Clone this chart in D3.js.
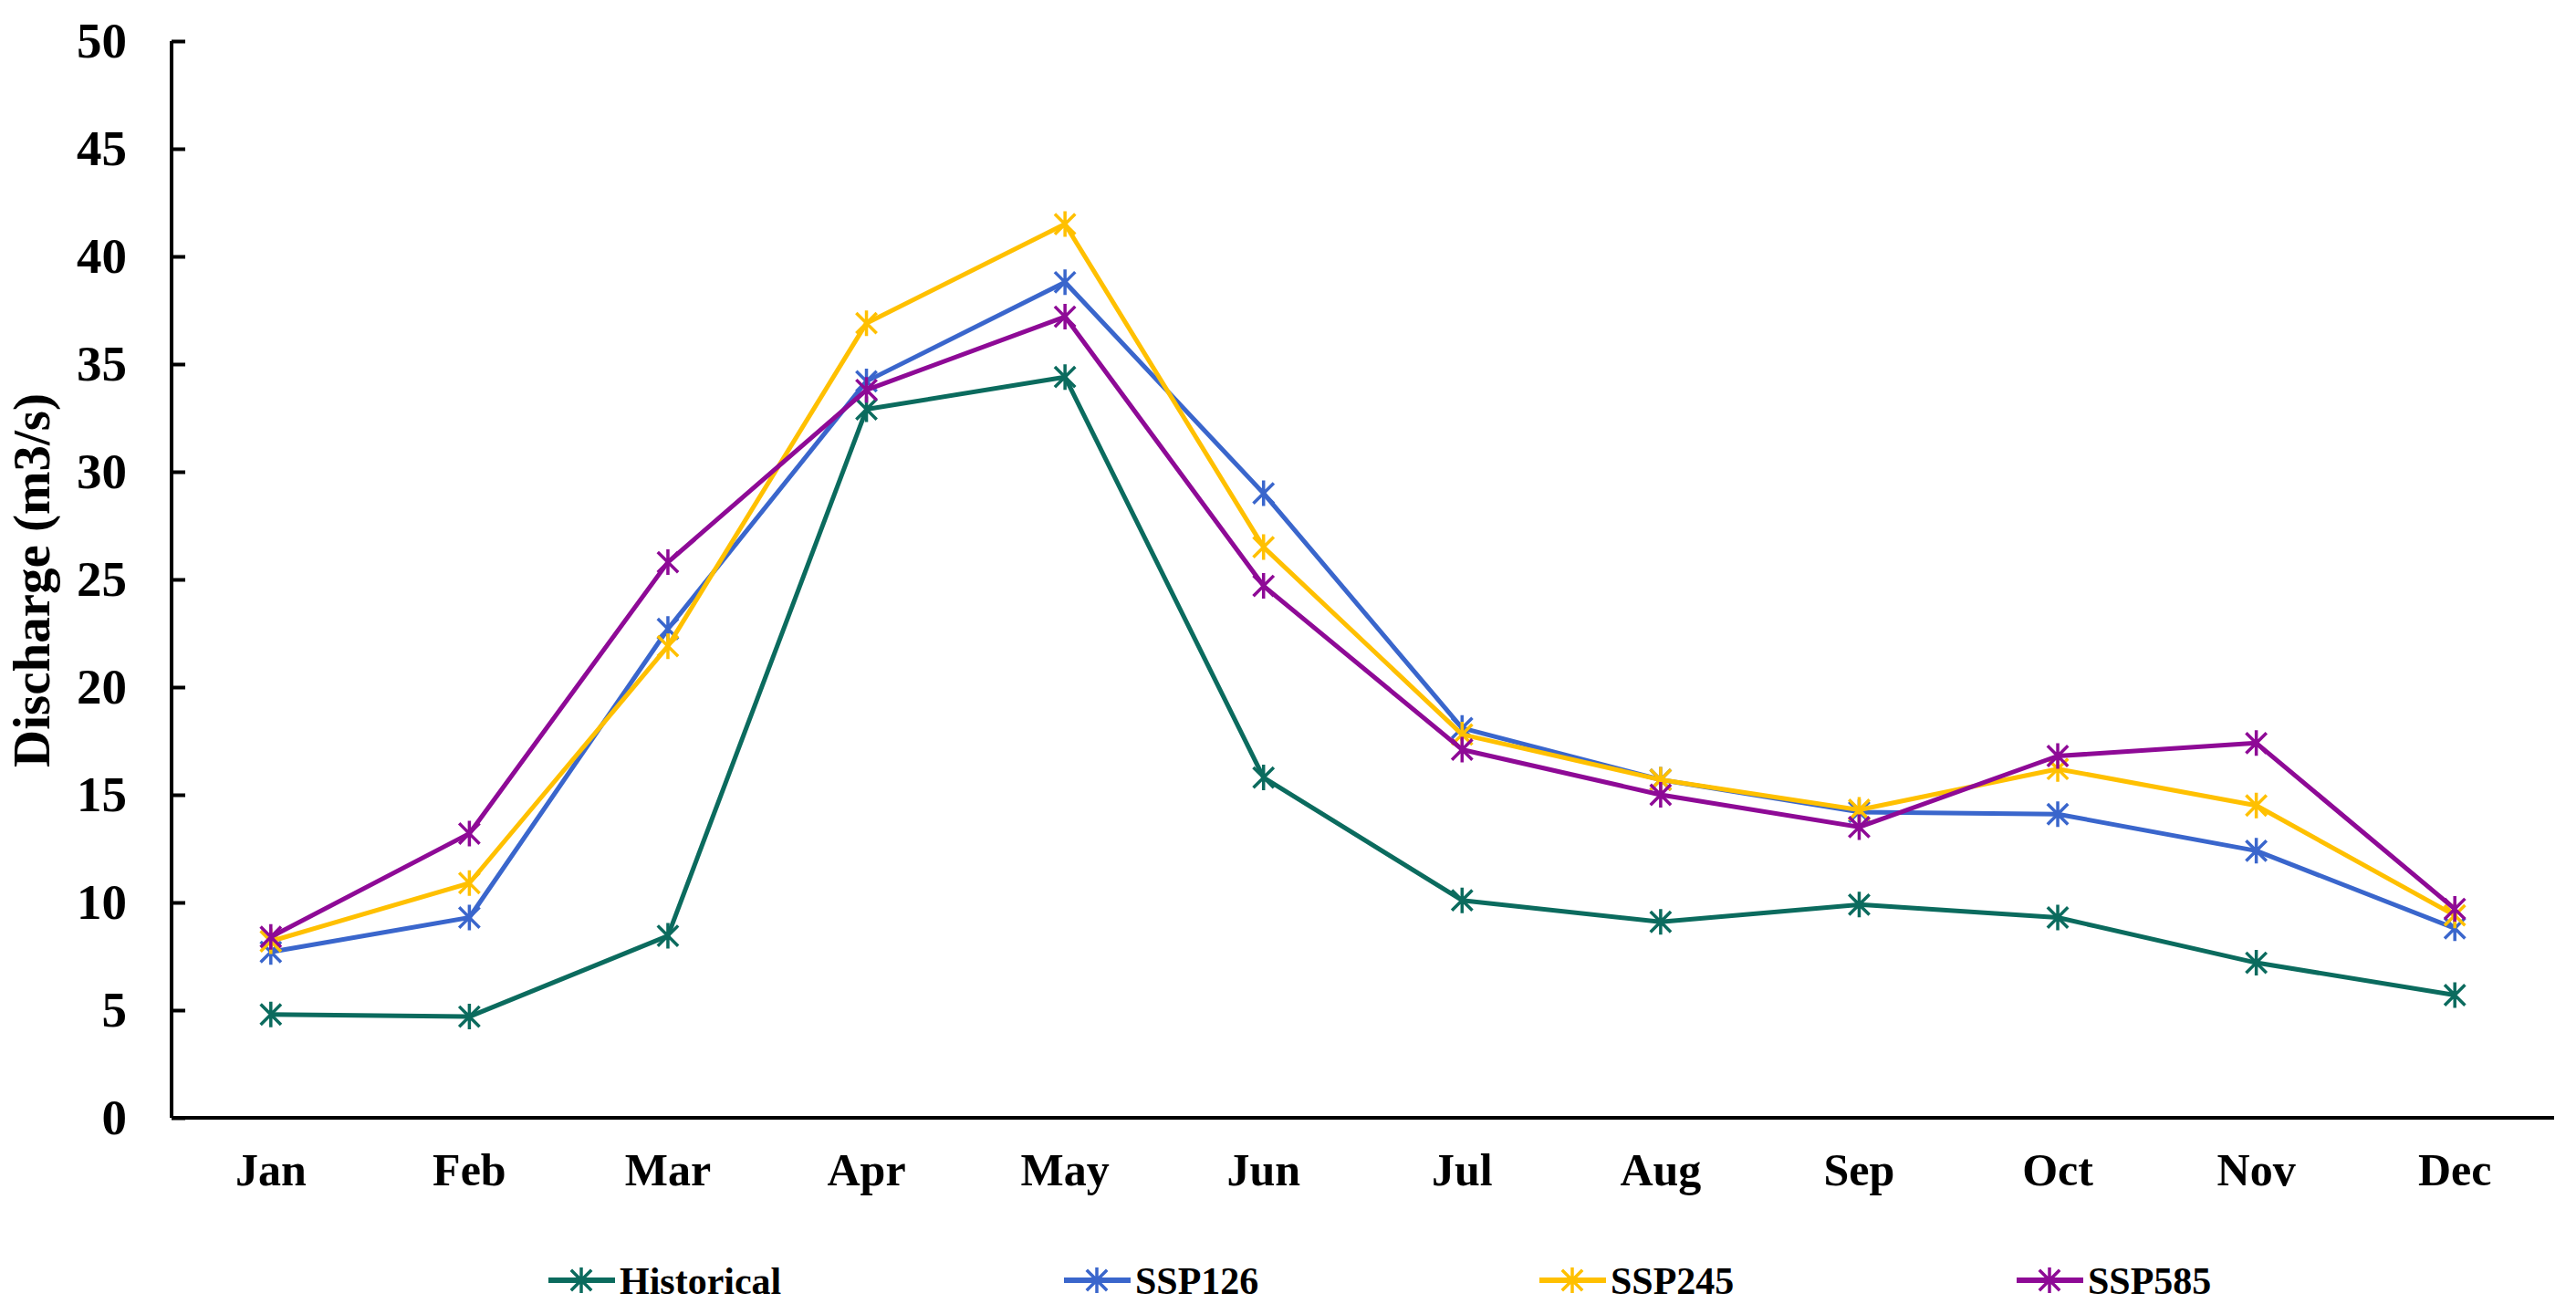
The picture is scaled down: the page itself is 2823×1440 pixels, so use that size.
<!DOCTYPE html>
<html>
<head>
<meta charset="utf-8">
<script src="https://cdn.jsdelivr.net/npm/d3@7"></script>
<style>
	body { margin: 0; background: #fff; }
	text { font-family: "Liberation Serif", "Times New Roman", serif; font-weight: bold; }
</style>
</head>
<body>
<div id="chart"></div>
<script>
// values
const months = ["Jan", "Feb", "Mar", "Apr", "May", "Jun", "Jul", "Aug", "Sep", "Oct", "Nov", "Dec"];
const historical = [4.8, 4.7, 8.45, 32.9, 34.4, 15.8, 10.1, 9.1, 9.9, 9.3, 7.2, 5.7];
const ssp126 = [7.7, 9.3, 22.7, 34.2, 38.8, 29.0, 18.1, 15.7, 14.2, 14.1, 12.4, 8.8];
const ssp245 = [8.2, 10.9, 21.9, 36.9, 41.5, 26.5, 17.8, 15.7, 14.3, 16.2, 14.5, 9.4];
const ssp585 = [8.4, 13.2, 25.8, 33.8, 37.2, 24.7, 17.1, 15.0, 13.5, 16.8, 17.4, 9.7];
const seriesNames = ["Historical", "SSP126", "SSP245", "SSP585"];
const yTicks = [0, 5, 10, 15, 20, 25, 30, 35, 40, 45, 50];

const colors = {
	"Historical": "#0b6b5e",
	"SSP126": "#3a66cc",
	"SSP245": "#ffc000",
	"SSP585": "#8e0a96"
};

const series = [
	{ name: "Historical", values: historical },
	{ name: "SSP126", values: ssp126 },
	{ name: "SSP245", values: ssp245 },
	{ name: "SSP585", values: ssp585 }
];

const width = 2823, height = 1440;
const plotLeft = 188, plotRight = 2799, plotTop = 45, plotBottom = 1225;

const svg = d3.select("#chart").append("svg")
	.attr("width", width).attr("height", height);

const x = d3.scaleBand().domain(months).range([plotLeft, plotRight]);
const y = d3.scaleLinear().domain([0, 50]).range([plotBottom, plotTop]);

// y axis, ticks pointing inward
const yAxis = svg.append("g")
	.attr("transform", "translate(" + plotLeft + ",0)")
	.call(d3.axisLeft(y).tickValues(yTicks).tickSize(0).tickPadding(49));
yAxis.select(".domain").attr("stroke", "#000").attr("stroke-width", 4)
	.attr("d", "M0," + plotTop + "V" + plotBottom);
yAxis.selectAll(".tick line").attr("stroke", "#000").attr("stroke-width", 4)
	.attr("x1", 0).attr("x2", 15);
yAxis.selectAll(".tick text").attr("font-size", 55).attr("fill", "#000");

// x axis, no ticks
const xAxis = svg.append("g")
	.attr("transform", "translate(0," + plotBottom + ")")
	.call(d3.axisBottom(x).tickSize(0).tickPadding(38));
xAxis.select(".domain").attr("stroke", "#000").attr("stroke-width", 4)
	.attr("d", "M" + plotLeft + ",0H" + plotRight);
xAxis.selectAll(".tick text").attr("font-size", 50).attr("fill", "#000");

svg.append("text")
	.attr("transform", "translate(54," + 636 + ") rotate(-90)")
	.attr("text-anchor", "middle")
	.attr("font-size", 57)
	.text("Discharge (m3/s)");

const cx = m => x(m) + x.bandwidth() / 2;

const line = d3.line()
	.x((d, i) => cx(months[i]))
	.y(d => y(d));

function star(g, px, py, color, r) {
	const path = "M" + px + "," + (py - r) + "V" + (py + r) +
		"M" + (px - r * 0.8) + "," + (py - r * 0.8) + "L" + (px + r * 0.8) + "," + (py + r * 0.8) +
		"M" + (px + r * 0.8) + "," + (py - r * 0.8) + "L" + (px - r * 0.8) + "," + (py + r * 0.8);
	g.append("path").attr("d", path).attr("stroke", color).attr("stroke-width", 3.5).attr("fill", "none");
}

series.forEach(s => {
	const g = svg.append("g");
	g.append("path")
		.datum(s.values)
		.attr("d", line)
		.attr("fill", "none")
		.attr("stroke", colors[s.name])
		.attr("stroke-width", 5)
		.attr("stroke-linejoin", "round");
	s.values.forEach((v, i) => star(g, cx(months[i]), y(v), colors[s.name], 14));
});

// legend
const legendX = [601, 1166, 1687, 2210];
const legendY = 1403;
seriesNames.forEach((name, i) => {
	const g = svg.append("g");
	g.append("line")
		.attr("x1", legendX[i]).attr("x2", legendX[i] + 73)
		.attr("y1", legendY).attr("y2", legendY)
		.attr("stroke", colors[name]).attr("stroke-width", 6);
	star(g, legendX[i] + 36, legendY, colors[name], 14);
	g.append("text")
		.attr("x", legendX[i] + 78).attr("y", legendY)
		.attr("dy", "0.35em")
		.attr("font-size", 42)
		.text(name);
});
</script>
</body>
</html>
